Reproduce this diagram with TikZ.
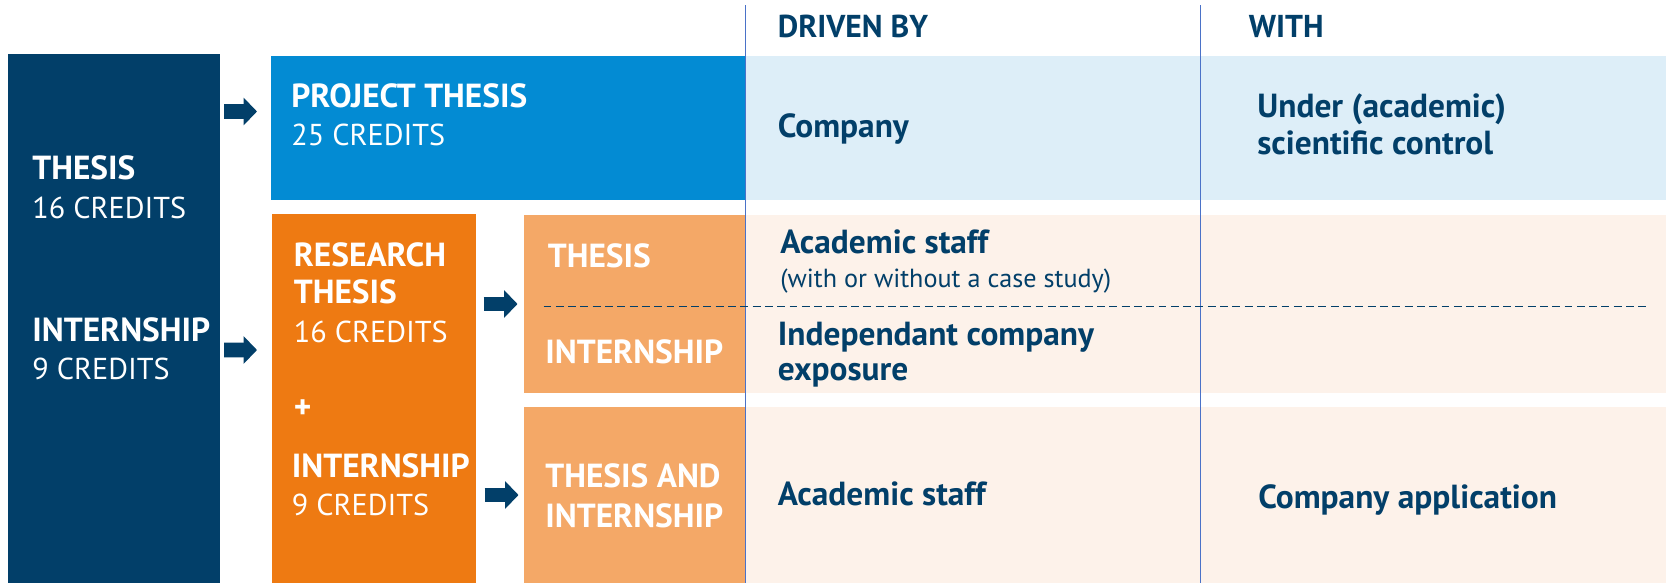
\documentclass[tikz,border=0pt]{standalone}
\usepackage{fontspec}
\setmainfont{PT Sans}
\usetikzlibrary{arrows.meta,positioning}
\definecolor{ThNavy}{HTML}{023F69}
\definecolor{ThBlue}{HTML}{038BD3}
\definecolor{ThBlueLight}{HTML}{DDEEF8}
\definecolor{ThOrange}{HTML}{EE7A12}
\definecolor{ThOrangeMid}{HTML}{F4A867}
\definecolor{ThPeach}{HTML}{FDF2EA}
\definecolor{ThRule}{HTML}{4A72C8}
\newcommand{\lblfont}{\fontsize{19}{22}\selectfont}
\newcommand{\crfont}{\fontsize{17.2}{20}\selectfont}
\newcommand{\hdrfont}{\fontsize{18}{21}\selectfont}
\newcommand{\notefont}{\fontsize{14.9}{17}\selectfont}

\begin{document}
\begin{tikzpicture}[
  block/.style={rectangle, inner sep=0pt, outer sep=0pt, draw=none},
  lbl/.style={anchor=base west, inner sep=0pt, text=white, font=\lblfont\bfseries},
  crd/.style={anchor=base west, inner sep=0pt, text=white, font=\crfont},
  cell/.style={anchor=base west, inner sep=0pt, text=ThNavy, font=\lblfont\bfseries},
  hdr/.style={anchor=base west, inner sep=0pt, text=ThNavy, font=\hdrfont\bfseries},
  note/.style={anchor=base west, inner sep=0pt, text=ThNavy, font=\notefont},
  blockarr/.style={-{Triangle[length=7.6pt, width=15.3pt]}, line width=8.4pt,
                   draw=ThNavy},
  colrule/.style={draw=ThRule, line width=1pt},
  rowsplit/.style={draw=ThNavy, line width=1.1pt, dash pattern=on 4.5pt off 2.5pt}
]
  \useasboundingbox (0,0) rectangle (33.32,-11.66);

  % blocks
  \node[block, fill=ThNavy, minimum width=4.24cm, minimum height=10.58cm]
        (thesis) at (2.28,-6.37) {};
  \node[block, fill=ThBlue, minimum width=9.49cm, minimum height=2.88cm]
        (proj) at (10.165,-2.56) {};
  \node[block, fill=ThBlueLight, minimum width=18.41cm, minimum height=2.88cm]
        (projrow) at (24.115,-2.56) {};
  \node[block, fill=ThOrange, minimum width=4.08cm, minimum height=7.38cm]
        (research) at (7.48,-7.97) {};
  \node[block, fill=ThOrangeMid, minimum width=4.44cm, minimum height=3.56cm]
        (subsplit) at (12.70,-6.08) {};
  \node[block, fill=ThOrangeMid, minimum width=4.44cm, minimum height=3.52cm]
        (subboth) at (12.70,-9.90) {};
  \node[block, fill=ThPeach, minimum width=18.41cm, minimum height=3.56cm]
        (splitrow) at (24.115,-6.08) {};
  \node[block, fill=ThPeach, minimum width=18.41cm, minimum height=3.52cm]
        (bothrow) at (24.115,-9.90) {};

  % column rules and row split
  \draw[colrule] (14.91,-0.10) -- (14.91,-11.66);
  \draw[colrule] (24.01,-0.10) -- (24.01,-11.66);
  \draw[rowsplit] (10.87,-6.13) -- (32.98,-6.13);

  % labels in the blocks
  \node[lbl] (thesislbl) at (0.64,-3.58) {THESIS};
  \node[crd] (thesiscr) at ([yshift=-0.78cm]thesislbl.base west) {16 CREDITS};
  \node[lbl] (internlbl) at (0.64,-6.82) {INTERNSHIP};
  \node[crd] (interncr) at ([yshift=-0.76cm]internlbl.base west) {9 CREDITS};
  \node[lbl] (projlbl) at (5.82,-2.14) {PROJECT THESIS};
  \node[crd] (projcr) at ([yshift=-0.76cm]projlbl.base west) {25 CREDITS};
  \node[lbl] (reslbl) at (5.87,-5.32) {RESEARCH};
  \node[lbl] (reslblb) at ([yshift=-0.74cm]reslbl.base west) {THESIS};
  \node[crd] (rescr) at ([yshift=-0.78cm]reslblb.base west) {16 CREDITS};
  \node[lbl] (pluslbl) at (5.87,-8.36) {+};
  \node[lbl] (resintlbl) at (5.83,-9.54) {INTERNSHIP};
  \node[crd] (resintcr) at ([yshift=-0.76cm]resintlbl.base west) {9 CREDITS};
  \node[lbl] (subthesislbl) at (10.95,-5.34) {THESIS};
  \node[lbl] (subinternlbl) at (10.90,-7.26) {INTERNSHIP};
  \node[lbl] (subbothlbl) at (10.90,-9.74) {THESIS AND};
  \node[lbl] (subbothlblb) at ([yshift=-0.80cm]subbothlbl.base west) {INTERNSHIP};

  % table cells
  \node[hdr] (drivenhd) at (15.55,-0.74) {DRIVEN BY};
  \node[hdr] (withhd) at (24.97,-0.74) {WITH};
  \node[cell] (company) at (15.55,-2.74) {Company};
  \node[cell] (control) at (25.14,-2.34) {Under (academic)};
  \node[cell] (controlb) at ([yshift=-0.74cm]control.base west) {scientific control};
  \node[cell] (staffa) at (15.60,-5.06) {Academic staff};
  \node[note] (casenote) at (15.60,-5.74) {(with or without a case study)};
  \node[cell] (exposure) at (15.55,-6.90) {Independant company};
  \node[cell] (exposureb) at ([yshift=-0.70cm]exposure.base west) {exposure};
  \node[cell] (staffb) at (15.55,-10.10) {Academic staff};
  \node[cell] (application) at (25.16,-10.16) {Company application};

  % arrows
  \draw[blockarr, shorten <=0.08cm, shorten >=0.28cm]
       ([yshift=-1.15cm]thesis.north east) -- ([yshift=-1.11cm]proj.north west);
  \draw[blockarr, shorten <=0.08cm, shorten >=0.30cm]
       ([yshift=-5.92cm]thesis.north east) -- ([yshift=-2.72cm]research.north west);
  \draw[blockarr, shorten <=0.15cm, shorten >=0.13cm]
       (research.east |- subsplit.west) -- (subsplit.west);
  \draw[blockarr, shorten <=0.17cm, shorten >=0.11cm]
       (research.east |- subboth.west) -- (subboth.west);
\end{tikzpicture}
\end{document}
